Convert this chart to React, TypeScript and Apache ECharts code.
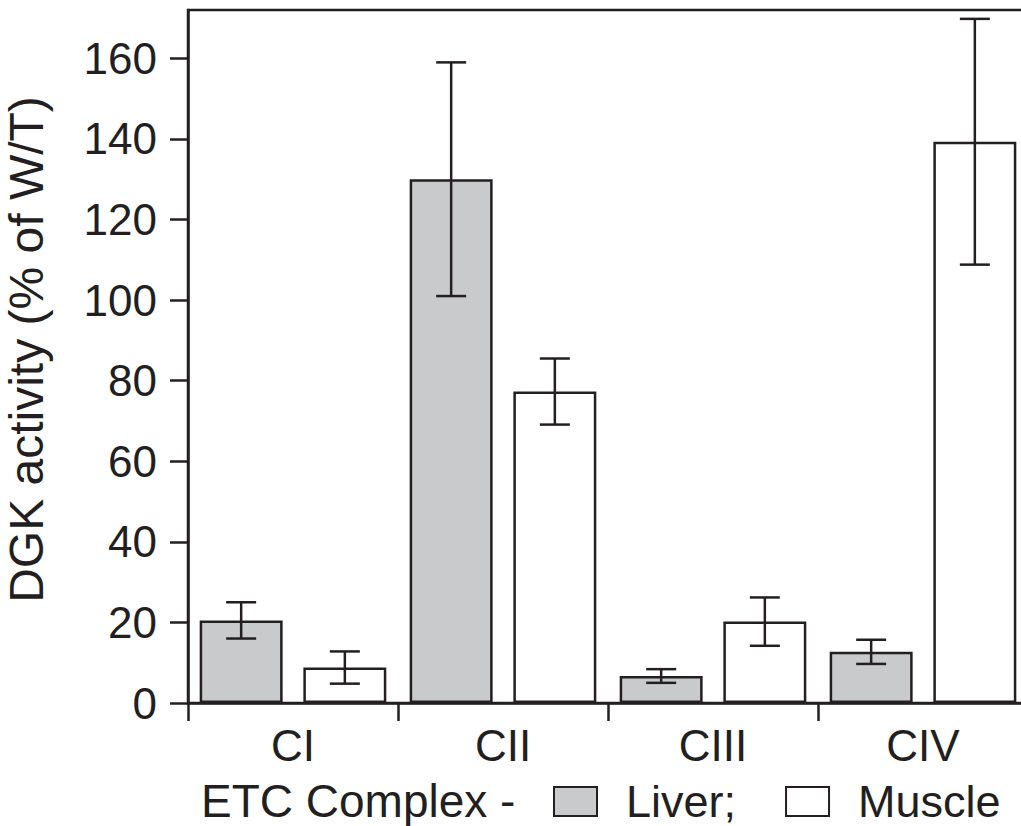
import React, { useEffect, useRef } from "react";
import * as echarts from "echarts";

const categories = ["CI", "CII", "CIII", "CIV"];
const liverValues = [20.5, 130, 6.7, 12.7];
const liverErrors = [4.5, 29, 1.7, 3];
const muscleValues = [8.8, 77.3, 20.2, 139.3];
const muscleErrors = [4, 8.2, 6, 30.5];
const yTicks = [0, 20, 40, 60, 80, 100, 120, 140, 160];
const yMax = 172;

const FONT = "Liberation Sans, Arial, sans-serif";
const INK = "#231f20";
const LIVER_FILL = "#c9cacc";
const BAR_W = 0.395;
const BAR_GAP = 0.25;

function errorSeries(name: string, values: number[], errors: number[], sign: number) {
  return {
    type: "custom",
    name,
    silent: true,
    z: 5,
    data: values.map((v, i) => [i, v, errors[i]]),
    encode: { x: 0, y: 1 },
    renderItem: (params: any, api: any) => {
      const idx = api.value(0);
      const v = api.value(1);
      const e = api.value(2);
      const band = api.size([1, 0])[0];
      const bw = band * BAR_W;
      const off = ((bw + bw * BAR_GAP) / 2) * sign;
      const hi = api.coord([idx, v + e]);
      const lo = api.coord([idx, v - e]);
      const x = hi[0] + off;
      const cap = 15;
      const style = { stroke: INK, lineWidth: 2.5 };
      return {
        type: "group",
        children: [
          { type: "line", shape: { x1: x, y1: hi[1], x2: x, y2: lo[1] }, style },
          { type: "line", shape: { x1: x - cap, y1: hi[1], x2: x + cap, y2: hi[1] }, style },
          { type: "line", shape: { x1: x - cap, y1: lo[1], x2: x + cap, y2: lo[1] }, style },
        ],
      };
    },
  };
}

export default function App() {
  const ref = useRef<HTMLDivElement>(null);
  useEffect(() => {
    if (!ref.current) return;
    const chart = echarts.init(ref.current, null, { renderer: "svg" });
    const barStyle = (fill: string) => ({ color: fill, borderColor: INK, borderWidth: 2.5 });
    chart.setOption({
      animation: false,
      backgroundColor: "#ffffff",
      textStyle: { fontFamily: FONT, color: INK },
      grid: {
        left: 188,
        top: 10,
        width: 840,
        height: 693,
        containLabel: false,
        outerBoundsMode: "none",
        show: true,
        borderColor: INK,
        borderWidth: 2.5,
        backgroundColor: "transparent",
      },
      legend: {
        left: 548,
        top: 774,
        itemWidth: 43,
        itemHeight: 29,
        itemGap: 49,
        icon: "rect",
        data: [
          { name: "Liver", itemStyle: { color: LIVER_FILL, borderColor: INK, borderWidth: 2 } },
          { name: "Muscle", itemStyle: { color: "#ffffff", borderColor: INK, borderWidth: 2 } },
        ],
        formatter: (n: string) => (n === "Liver" ? "Liver;" : n),
        textStyle: { fontFamily: FONT, fontSize: 45, color: INK, padding: [0, 0, 0, 24] },
      },
      graphic: [
        {
          type: "text",
          left: 201,
          top: 778,
          style: { text: "ETC Complex -", font: `46px ${FONT}`, fill: INK },
        },
      ],
      xAxis: {
        type: "category",
        data: categories,
        axisLine: { lineStyle: { color: INK, width: 2.5 } },
        axisTick: { show: true, length: 18, lineStyle: { color: INK, width: 2.5 } },
        axisLabel: { fontFamily: FONT, fontSize: 44, color: INK, margin: 20 },
        splitLine: { show: false },
      },
      yAxis: {
        type: "value",
        min: 0,
        max: yMax,
        interval: 20,
        name: "DGK activity (% of W/T)",
        nameLocation: "middle",
        nameGap: 138,
        nameTextStyle: { fontFamily: FONT, fontSize: 48, color: INK, padding: [0, 0, 0, 14] },
        axisLine: { show: true, lineStyle: { color: INK, width: 2.5 } },
        axisTick: { show: true, length: 18, customValues: yTicks, lineStyle: { color: INK, width: 2.5 } },
        axisLabel: { fontFamily: FONT, fontSize: 44, color: INK, margin: 31, customValues: yTicks },
        splitLine: { show: false },
      },
      series: [
        {
          type: "bar",
          name: "Liver",
          data: liverValues,
          barWidth: `${BAR_W * 100}%`,
          barGap: `${BAR_GAP * 100}%`,
          itemStyle: barStyle(LIVER_FILL),
        },
        {
          type: "bar",
          name: "Muscle",
          data: muscleValues,
          barWidth: `${BAR_W * 100}%`,
          barGap: `${BAR_GAP * 100}%`,
          itemStyle: barStyle("#ffffff"),
        },
        errorSeries("Liver error", liverValues, liverErrors, -1),
        errorSeries("Muscle error", muscleValues, muscleErrors, 1),
      ],
    });
    return () => chart.dispose();
  }, []);
  return (
    <div
      ref={ref}
      style={{ position: "fixed", left: 0, top: 0, width: 1021, height: 826, background: "#fff" }}
    />
  );
}
